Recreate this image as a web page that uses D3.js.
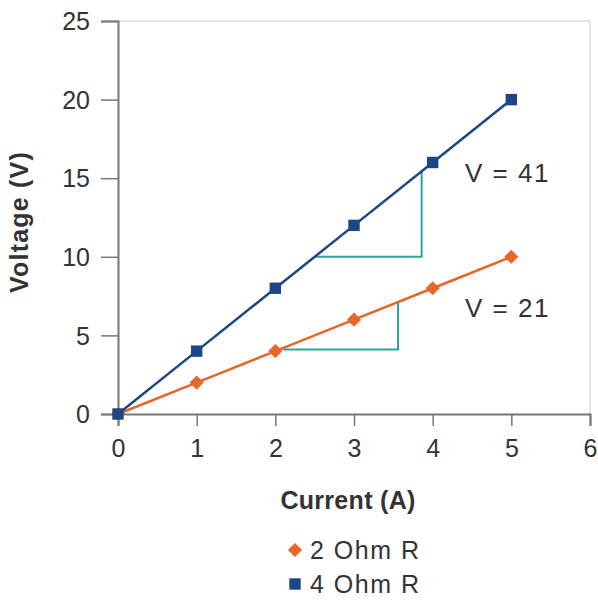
<!DOCTYPE html>
<meta charset="utf-8">
<script src="https://d3js.org/d3.v7.min.js"></script>
<style>
  body { margin: 0; background: #fff; }
  text { font-family: "Liberation Sans", Arial, sans-serif; fill: #333; }
</style>
<svg id="chart" width="598" height="601"></svg>
<script>
// data
var current = [0, 1, 2, 3, 4, 5];
var volt2 = [0, 2, 4, 6, 8, 10];
var volt4 = [0, 4, 8, 12, 16, 20];
var xTicks = [0, 1, 2, 3, 4, 5, 6];
var yTicks = [0, 5, 10, 15, 20, 25];
var seriesNames = ["2 Ohm R", "4 Ohm R"];
// slope triangles: [x start, x end, y base]
var tri4 = [2.5, 3.86, 10];
var tri2 = [2.1, 3.56, 4.1];

var svg = d3.select("#chart");
var orange = "#e8652b", blue = "#1d4687", teal = "#2ba59b";

var x = d3.scaleLinear().domain([0, 6]).range([118, 590]);
var y = d3.scaleLinear().domain([0, 25]).range([414, 21]);

// light frame top/right
svg.append("line").attr("x1", x(0)).attr("x2", x(6)).attr("y1", y(25)).attr("y2", y(25))
  .style("stroke", "#ddd").style("stroke-width", 1.5);
svg.append("line").attr("x1", x(6)).attr("x2", x(6)).attr("y1", y(25)).attr("y2", y(0))
  .style("stroke", "#ddd").style("stroke-width", 1.5);

// axes
var xAxis = svg.append("g").attr("transform", "translate(0," + y(0) + ")")
  .call(d3.axisBottom(x).tickValues(xTicks).tickSize(12).tickPadding(12).tickFormat(d3.format("d")));
var yAxis = svg.append("g").attr("transform", "translate(" + x(0) + ",0)")
  .call(d3.axisLeft(y).tickValues(yTicks).tickSize(17).tickPadding(11).tickFormat(d3.format("d")));
[xAxis, yAxis].forEach(function(a){
  a.select(".domain").style("stroke", "#777").style("stroke-width", 2);
  a.selectAll(".tick line").style("stroke", "#777").style("stroke-width", 1.5);
  a.selectAll(".tick text").style("font-size", "25px").style("fill", "#333")
    .style("font-family", "'Liberation Sans', Arial, sans-serif");
});
yAxis.selectAll(".tick text").attr("dy", "0.35em");
xAxis.selectAll(".tick text").attr("dy", "0.75em");

// slope triangles
function triangle(t, slope) {
  var pts = [[t[0], t[2]], [t[1], t[2]], [t[1], slope * t[1]]];
  svg.append("path")
    .attr("d", d3.line().x(function(d){ return x(d[0]); }).y(function(d){ return y(d[1]); })(pts))
    .style("fill", "none").style("stroke", teal).style("stroke-width", 2);
}
triangle(tri4, 4);
triangle(tri2, 2);

var line = d3.line().x(function(d){ return x(d[0]); }).y(function(d){ return y(d[1]); });
var d2 = current.map(function(c, i){ return [c, volt2[i]]; });
var d4 = current.map(function(c, i){ return [c, volt4[i]]; });

svg.append("path").attr("d", line(d2)).style("fill", "none").style("stroke", orange).style("stroke-width", 2.5);
svg.append("path").attr("d", line(d4)).style("fill", "none").style("stroke", blue).style("stroke-width", 2.5);

var diamond = d3.symbol().type(d3.symbolSquare).size(100);
var square = d3.symbol().type(d3.symbolSquare).size(130);

svg.append("g").selectAll("path").data(d2).enter().append("path")
  .attr("d", diamond).attr("transform", function(d){ return "translate(" + x(d[0]) + "," + y(d[1]) + ") rotate(45)"; })
  .style("fill", orange);
svg.append("g").selectAll("path").data(d4).enter().append("path")
  .attr("d", square).attr("transform", function(d){ return "translate(" + x(d[0]) + "," + y(d[1]) + ")"; })
  .style("fill", blue);

// annotations
svg.append("text").attr("x", 465).attr("y", 182).style("font-size", "26px").style("letter-spacing", "1.5px").text("V = 41");
svg.append("text").attr("x", 465).attr("y", 317).style("font-size", "26px").style("letter-spacing", "1.5px").text("V = 21");

// axis titles
svg.append("text").attr("x", 348).attr("y", 509).attr("text-anchor", "middle")
  .style("font-size", "25px").style("font-weight", "bold").style("letter-spacing", "0.3px").text("Current (A)");
svg.append("text").attr("transform", "translate(28,222) rotate(-90)").attr("text-anchor", "middle")
  .style("font-size", "25px").style("font-weight", "bold").style("letter-spacing", "1.2px").text("Voltage (V)");

// legend
var leg = svg.append("g");
leg.append("path").attr("d", d3.symbol().type(d3.symbolSquare).size(100))
  .attr("transform", "translate(295,550) rotate(45)").style("fill", orange);
leg.append("path").attr("d", d3.symbol().type(d3.symbolSquare).size(130))
  .attr("transform", "translate(295,584)").style("fill", blue);
leg.append("text").attr("x", 310).attr("y", 559).style("font-size", "25px").style("letter-spacing", "1.5px").text(seriesNames[0]);
leg.append("text").attr("x", 310).attr("y", 593).style("font-size", "25px").style("letter-spacing", "1.5px").text(seriesNames[1]);
</script>
